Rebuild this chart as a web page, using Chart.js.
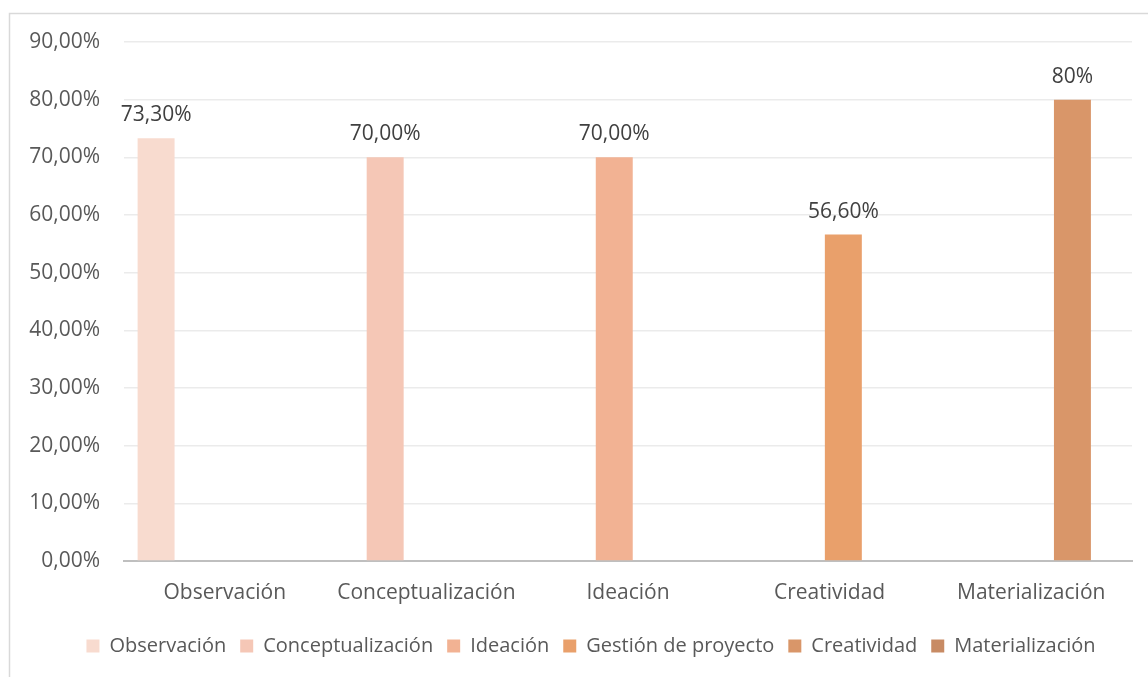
<!DOCTYPE html>
<html>
<head>
<meta charset="utf-8">
<script src="https://cdn.jsdelivr.net/npm/chart.js@4/dist/chart.umd.min.js"></script>
<style>
  html, body { margin: 0; padding: 0; background: #fff; }
  #wrap { position: relative; width: 1148px; height: 677px; }
</style>
</head>
<body>
<div id="wrap"><canvas id="grafico"></canvas></div>
<script>
// categorías del eje x
const categorias = ['Observación', 'Conceptualización', 'Ideación', 'Creatividad', 'Materialización'];

// series (una por competencia)
const series = ['Observación', 'Conceptualización', 'Ideación', 'Gestión de proyecto', 'Creatividad', 'Materialización'];
const observacion       = [73.3, null, null, null, null];
const conceptualizacion = [null, 70, null, null, null];
const ideacion          = [null, null, 70, null, null];
const gestionProyecto   = [null, null, null, 56.6, null];
const creatividad       = [null, null, null, null, 80];
const materializacion   = [null, null, null, null, null];
const valores = [observacion, conceptualizacion, ideacion, gestionProyecto, creatividad, materializacion];

// decimales de la etiqueta de cada serie
const decimalesEtiqueta = [2, 2, 2, 2, 0, 2];

// etiquetas del eje y
const etiquetasY = ['0,00%', '10,00%', '20,00%', '30,00%', '40,00%', '50,00%', '60,00%', '70,00%', '80,00%', '90,00%'];

const colores = ['#F8DBCF', '#F5C7B6', '#F2B293', '#E9A06B', '#D99669', '#C88B64'];

const fuente = "'Open Sans', 'Noto Sans', sans-serif";

// marco del gráfico
const marco = {
    id: 'marco',
    beforeDraw(chart) {
        const c = chart.ctx;
        c.save();
        c.strokeStyle = '#d9d9d9';
        c.lineWidth = 1.5;
        c.strokeRect(9.5, 13.5, 1200, 700);
        c.restore();
    }
};

// corre la leyenda un poco a la derecha
const leyendaDesplazada = {
    id: 'leyendaDesplazada',
    afterLayout(chart) {
        if (chart.legend) {
            chart.legend.left += 20;
            chart.legend.right += 20;
        }
    }
};

// etiquetas de datos sobre cada barra
const etiquetasDatos = {
    id: 'etiquetasDatos',
    afterDatasetsDraw(chart) {
        const c = chart.ctx;
        c.save();
        c.font = '21px ' + fuente;
        c.fillStyle = '#404040';
        c.textAlign = 'center';
        c.textBaseline = 'alphabetic';
        chart.data.datasets.forEach((ds, i) => {
            const meta = chart.getDatasetMeta(i);
            meta.data.forEach((bar, j) => {
                const v = ds.data[j];
                if (v === null || v === undefined) return;
                const txt = v.toFixed(decimalesEtiqueta[i]).replace('.', ',') + '%';
                c.fillText(txt, bar.x, bar.y - 17);
            });
        });
        c.restore();
    }
};

const ctx = document.getElementById('grafico').getContext('2d');
new Chart(ctx, {
    type: 'bar',
    data: {
        labels: categorias,
        datasets: series.map((nombre, i) => ({
            label: nombre,
            data: valores[i],
            backgroundColor: colores[i],
            borderWidth: 0,
            categoryPercentage: 0.818,
            barPercentage: 1.345
        }))
    },
    options: {
        responsive: true,
        maintainAspectRatio: false,
        animation: false,
        layout: {
            padding: { top: 42, right: 16, bottom: 11, left: 10 }
        },
        plugins: {
            legend: {
                position: 'bottom',
                labels: {
                    font: { family: fuente, size: 20 },
                    color: '#595959',
                    boxWidth: 13,
                    boxHeight: 13,
                    padding: 14
                }
            },
            tooltip: { enabled: false },
            title: { display: false }
        },
        scales: {
            x: {
                grid: { display: false, drawTicks: false },
                border: { display: true, color: '#bfbfbf', width: 2 },
                ticks: {
                    font: { family: fuente, size: 21 },
                    color: '#595959',
                    padding: 19,
                    maxRotation: 0
                },
                afterFit(scale) { scale.height = 61; }
            },
            y: {
                min: 0,
                max: 90,
                ticks: {
                    stepSize: 10,
                    font: { family: fuente, size: 21 },
                    color: '#595959',
                    padding: 24,
                    callback: (v, i) => etiquetasY[i]
                },
                grid: { color: '#ebebeb', lineWidth: 1.5, drawTicks: false },
                border: { display: false },
                afterFit(scale) { scale.width = 114; }
            }
        }
    },
    plugins: [marco, leyendaDesplazada, etiquetasDatos]
});
</script>
</body>
</html>
